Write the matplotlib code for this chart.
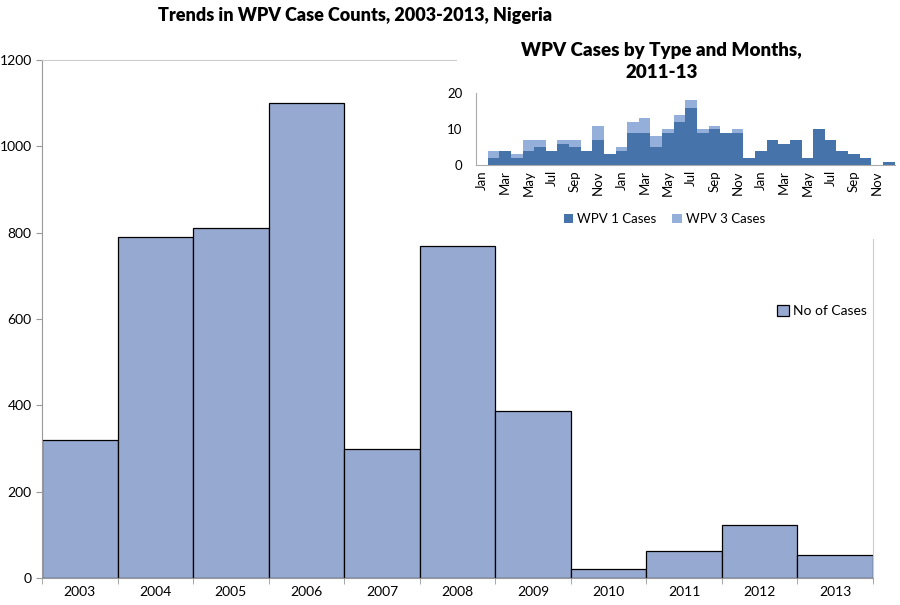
import matplotlib.pyplot as plt
import numpy as np

plt.rcParams['font.family'] = ['Lato', 'DejaVu Sans']

# main chart data
years = ['2003', '2004', '2005', '2006', '2007', '2008',
         '2009', '2010', '2011', '2012', '2013']
cases = [320, 790, 810, 1100, 300, 770, 388, 21, 62, 122, 53]

# inset data: Jan 2011 - Dec 2013
months = ['Jan', 'Feb', 'Mar', 'Apr', 'May', 'Jun',
          'Jul', 'Aug', 'Sep', 'Oct', 'Nov', 'Dec'] * 3
wpv1 = [0, 2, 4, 2, 4, 5, 4, 6, 5, 4, 7, 3,
        4, 9, 9, 5, 9, 12, 16, 9, 10, 9, 9, 2,
        4, 7, 6, 7, 2, 10, 7, 4, 3, 2, 0, 1]
wpv3 = [0, 2, 0, 1, 3, 2, 0, 1, 2, 0, 4, 0,
        1, 3, 4, 3, 1, 2, 2, 1, 1, 0, 1, 0,
        0, 0, 0, 0, 0, 0, 0, 0, 0, 0, 0, 0]

fig = plt.figure(figsize=(9, 6.05), dpi=100)

# Main chart
ax = fig.add_axes([0.0467, 0.0446, 0.9233, 0.8562])
x = np.arange(len(years))
ax.bar(x, cases, width=1.0, color='#95a9d1', edgecolor='black',
       linewidth=0.9, label='No of Cases')
ax.set_xlim(-0.5, len(years) - 0.5)
ax.set_ylim(0, 1200)
ax.set_yticks(range(0, 1201, 200))
ax.set_xticks(x)
ax.set_xticklabels(years, fontsize=10)
ax.set_xticks(np.arange(-0.5, len(years)), minor=True)
ax.tick_params(axis='x', which='major', length=0, pad=6)
ax.tick_params(axis='x', which='minor', length=4, color='#999999')
ax.tick_params(axis='y', labelsize=10, length=4, color='#999999')
for side in ['left', 'bottom']:
    ax.spines[side].set_color('#999999')
for side in ['top', 'right']:
    ax.spines[side].set_color('#cccccc')
ax.legend(loc='center left', bbox_to_anchor=(0.87, 0.515), frameon=False,
          fontsize=10, handlelength=0.8, handleheight=0.8, handletextpad=0.3)
fig.text(0.395, 0.975, 'Trends in WPV Case Counts, 2003-2013, Nigeria',
         ha='center', va='center', fontsize=13, fontweight='heavy')

# white panel behind inset
bg = fig.add_axes([0.508, 0.605, 0.48, 0.345])
bg.set_facecolor('white')
bg.set_xticks([])
bg.set_yticks([])
for s in bg.spines.values():
    s.set_visible(False)

# Inset chart
ins = fig.add_axes([0.529, 0.727, 0.465, 0.119])
m = np.arange(len(months))
ins.bar(m, wpv1, width=1.0, color='#4573aa', label='WPV 1 Cases')
ins.bar(m, wpv3, width=1.0, bottom=wpv1, color='#94afda', label='WPV 3 Cases')
ins.set_xlim(-0.5, len(months) - 0.5)
ins.set_ylim(0, 20)
ins.set_yticks([0, 10, 20])
ins.set_xticks(m[::2])
ins.set_xticklabels(months[::2], rotation=90, fontsize=9.5)
ins.tick_params(axis='both', length=0, labelsize=9.5)
ins.tick_params(axis='y', pad=10)
for side in ['top', 'right']:
    ins.spines[side].set_visible(False)
for side in ['left', 'bottom']:
    ins.spines[side].set_color('#aaaaaa')
ins.legend(loc='upper center', bbox_to_anchor=(0.45, -0.5), ncol=2,
           frameon=False, fontsize=9.5, handlelength=0.7, handleheight=0.7,
           handletextpad=0.3, columnspacing=1.2)
fig.text(0.735, 0.898, 'WPV Cases by Type and Months,\n2011-13',
         ha='center', va='center', fontsize=13.5, fontweight='heavy',
         linespacing=1.35)

plt.savefig('out.png', dpi=100)
